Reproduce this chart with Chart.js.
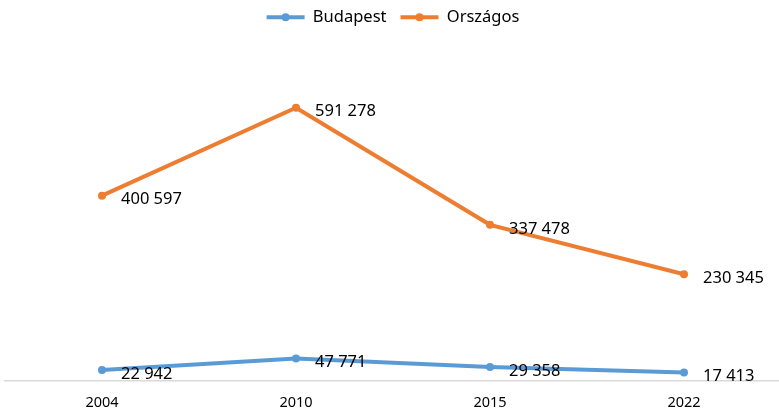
<!DOCTYPE html>
<html>
<head>
<meta charset="utf-8">
<script src="https://cdn.jsdelivr.net/npm/chart.js@4"></script>
<style>
  html, body { margin: 0; padding: 0; background: #fff; overflow: hidden; }
</style>
</head>
<body>
<canvas id="chart" width="781" height="409"></canvas>
<script>
// évek és értékek
var years = ["2004", "2010", "2015", "2022"];
var budapest = [22942, 47771, 29358, 17413];
var orszagos = [400597, 591278, 337478, 230345];
var seriesNames = ["Budapest", "Országos"];
var seriesColors = ["#5b9bd5", "#ed7d31"];

function fmt(v) {
    return String(v).replace(/\B(?=(\d{3})+(?!\d))/g, " ");
}

// adatfeliratok a pontok jobb oldalán
var valueLabels = {
    id: "valueLabels",
    afterDatasetsDraw: function (chart) {
        var ctx = chart.ctx;
        ctx.save();
        ctx.font = "16.5px 'Noto Sans'";
        ctx.fillStyle = "#000";
        ctx.textAlign = "left";
        ctx.textBaseline = "middle";
        chart.data.datasets.forEach(function (ds, i) {
            chart.getDatasetMeta(i).data.forEach(function (pt, j) {
                ctx.fillText(fmt(ds.data[j]), pt.x + 19, pt.y + 4);
            });
        });
        ctx.restore();
    }
};

// pötty a jelmagyarázat vonalára + hely a jelmagyarázat alatt
var legendDots = {
    id: "legendDots",
    beforeInit: function (chart) {
        var origFit = chart.legend.fit;
        chart.legend.fit = function () {
            origFit.bind(chart.legend)();
            this.height += 22;
        };
    },
    afterDraw: function (chart) {
        var lg = chart.legend;
        if (!lg || !lg.legendHitBoxes) return;
        var ctx = chart.ctx;
        ctx.save();
        lg.legendHitBoxes.forEach(function (b, i) {
            ctx.fillStyle = seriesColors[i];
            ctx.beginPath();
            ctx.arc(b.left + 19, b.top + b.height / 2, 4, 0, Math.PI * 2);
            ctx.fill();
        });
        ctx.restore();
    }
};

var ctx = document.getElementById("chart").getContext("2d");
var myChart = new Chart(ctx, {
    type: "line",
    data: {
        labels: years,
        datasets: [{
            label: seriesNames[0],
            data: budapest,
            borderColor: seriesColors[0],
            backgroundColor: seriesColors[0],
            borderWidth: 4,
            pointRadius: 4,
            pointBorderWidth: 0,
            pointHoverRadius: 4,
            tension: 0
        }, {
            label: seriesNames[1],
            data: orszagos,
            borderColor: seriesColors[1],
            backgroundColor: seriesColors[1],
            borderWidth: 4,
            pointRadius: 4,
            pointBorderWidth: 0,
            pointHoverRadius: 4,
            tension: 0
        }]
    },
    options: {
        responsive: false,
        animation: false,
        layout: { autoPadding: false, padding: { left: 5, right: 0, top: -5, bottom: -17 } },
        plugins: {
            tooltip: { enabled: false },
            legend: {
                position: "top",
                labels: {
                    boxWidth: 38,
                    boxHeight: 4,
                    padding: 14,
                    color: "#000",
                    font: { family: "'Noto Sans'", size: 16.5 },
                    generateLabels: function (chart) {
                        var items = Chart.defaults.plugins.legend.labels.generateLabels(chart);
                        items.forEach(function (it) { it.lineWidth = 0; });
                        return items;
                    }
                }
            }
        },
        scales: {
            x: {
                offset: true,
                grid: { display: false, drawTicks: false },
                border: { color: "#d9d9d9", width: 1.5 },
                ticks: {
                    color: "#000",
                    padding: 14,
                    font: { family: "'Noto Sans'", size: 14.5 }
                }
            },
            y: {
                display: false,
                min: 0,
                max: 700000
            }
        }
    },
    plugins: [valueLabels, legendDots]
});
</script>
</body>
</html>
